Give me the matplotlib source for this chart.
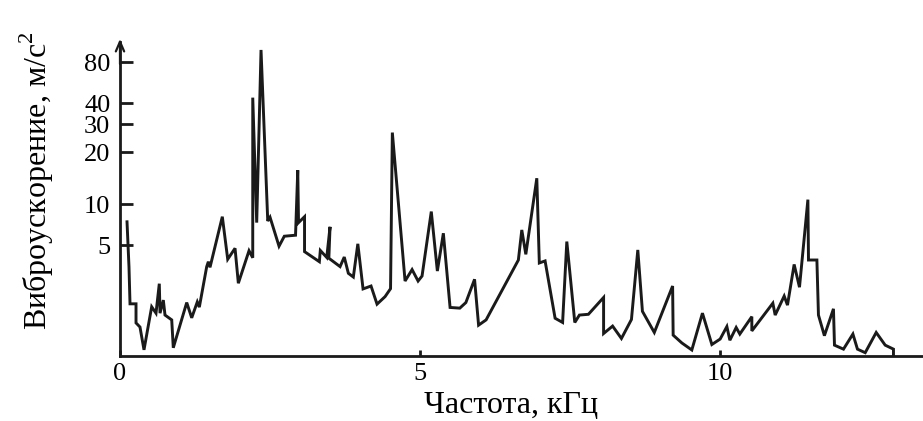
import numpy as np
import matplotlib
matplotlib.use("Agg")
import matplotlib.pyplot as plt

plt.rcParams['font.family'] = ['Liberation Serif', 'DejaVu Serif']
plt.rcParams['mathtext.fontset'] = 'custom'
plt.rcParams['mathtext.rm'] = 'Liberation Serif'

# частота, кГц
freq = [0.117, 0.15, 0.167, 0.267, 0.267, 0.333, 0.4, 0.528, 0.6, 0.655,
        0.667, 0.722, 0.75, 0.862, 0.888, 1.112, 1.195, 1.288, 1.322, 1.445,
        1.472, 1.5, 1.705, 1.795, 1.917, 1.972, 2.15, 2.212, 2.212, 2.278,
        2.35, 2.462, 2.5, 2.65, 2.738, 2.925, 2.962, 2.975, 3.075, 3.075,
        3.322, 3.338, 3.445, 3.5, 3.48, 3.667, 3.737, 3.805, 3.888, 3.963,
        4.05, 4.183, 4.283, 4.417, 4.508, 4.538, 4.75, 4.867, 4.967, 5.033,
        5.187, 5.288, 5.388, 5.5, 5.662, 5.763, 5.908, 5.975, 6.1, 6.638,
        6.695, 6.762, 6.945, 6.987, 7.083, 7.25, 7.375, 7.445, 7.578, 7.655,
        7.805, 8.058, 8.058, 8.208, 8.355, 8.522, 8.628, 8.705, 8.903, 9.208,
        9.217, 9.362, 9.528, 9.705, 9.862, 10.0, 10.112, 10.162, 10.267, 10.328,
        10.528, 10.528, 10.878, 10.917, 11.067, 11.122, 11.233, 11.322, 11.462, 11.472,
        11.612, 11.638, 11.737, 11.888, 11.905, 12.055, 12.212, 12.288, 12.417, 12.6,
        12.75, 12.888, 12.888]

# виброускорение, м/с^2
accel = [7.4, 3.45, 1.85, 1.85, 1.34, 1.25, 0.85, 1.76, 1.58, 2.6,
         1.58, 1.97, 1.53, 1.41, 0.88, 1.89, 1.46, 1.91, 1.75, 3.47,
         3.77, 3.43, 8.07, 3.93, 4.73, 2.62, 4.54, 4.03, 43.8, 7.3,
         98.0, 7.5, 8.0, 4.9, 5.8, 5.9, 15.7, 7.3, 8.07, 4.47,
         3.77, 4.56, 4.05, 6.8, 4.0, 3.47, 4.08, 3.1, 2.91, 5.1,
         2.38, 2.5, 1.84, 2.09, 2.39, 26.5, 2.72, 3.3, 2.72, 2.96,
         8.8, 3.22, 6.1, 1.74, 1.72, 1.89, 2.8, 1.29, 1.41, 3.88,
         6.45, 4.27, 14.1, 3.69, 3.82, 1.45, 1.35, 5.3, 1.35, 1.53,
         1.55, 2.06, 1.12, 1.27, 1.03, 1.42, 4.6, 1.63, 1.14, 2.5,
         1.09, 0.955, 0.848, 1.58, 0.93, 1.02, 1.26, 1.0, 1.24, 1.11,
         1.49, 1.17, 1.87, 1.53, 2.11, 1.81, 3.6, 2.45, 10.6, 3.88,
         3.88, 1.53, 1.08, 1.7, 0.92, 0.86, 1.11, 0.86, 0.81, 1.14,
         0.92, 0.86, 0.77]

y_ticks = [5, 10, 20, 30, 40, 80]
x_ticks = [0, 5, 10]

# нелинейная шкала оси Y, как на исходном рисунке (по положениям делений)
scale_vals = np.log10([0.766, 5, 10, 20, 30, 40, 80, 112])
scale_pos = np.array([0, 111, 152, 204, 232, 253, 294, 314], dtype=float)


def forward(v):
    v = np.maximum(np.asarray(v, dtype=float), 1e-3)
    return np.interp(np.log10(v), scale_vals, scale_pos)


def inverse(p):
    return 10 ** np.interp(np.asarray(p, dtype=float), scale_pos, scale_vals)


fig = plt.figure(figsize=(9.23, 4.21), dpi=100)
ax = fig.add_axes([0.130, 0.1544, 0.870, 0.7458])

ax.plot(freq, accel, color="#1a1a1a", linewidth=2.1, solid_joinstyle="miter")

ax.set_yscale("function", functions=(forward, inverse))
ax.set_ylim(0.766, 112)
ax.set_xlim(0, 13.38)

ax.set_yticks(y_ticks)
ax.set_yticklabels([str(t) for t in y_ticks])
ax.yaxis.set_minor_locator(matplotlib.ticker.NullLocator())
ax.set_xticks(x_ticks)
ax.set_xticklabels([str(t) for t in x_ticks])

for side in ["top", "right"]:
    ax.spines[side].set_visible(False)
for side in ["left", "bottom"]:
    ax.spines[side].set_linewidth(2.0)
    ax.spines[side].set_color("#1a1a1a")

ax.tick_params(axis="y", direction="in", length=9.5, width=2.0, pad=7,
               labelsize=19, color="#1a1a1a")
ax.tick_params(axis="x", direction="in", length=4.5, width=2.0, pad=5,
               labelsize=19, color="#1a1a1a")

# стрелка на оси Y
ax.annotate("", xy=(0, 1.01), xytext=(0, 0.93), xycoords="axes fraction",
            arrowprops=dict(arrowstyle="->,head_length=0.7,head_width=0.3",
                            lw=1.6, color="#1a1a1a", shrinkA=0, shrinkB=0),
            annotation_clip=False)

ax.set_xlabel("Частота, кГц", fontsize=23)
ax.xaxis.set_label_coords(0.487, -0.112)
ax.set_ylabel("Виброускорение, м/с$^2$", fontsize=23)
ax.yaxis.set_label_coords(-0.08, 0.56)

fig.savefig("out.png", dpi=100)
